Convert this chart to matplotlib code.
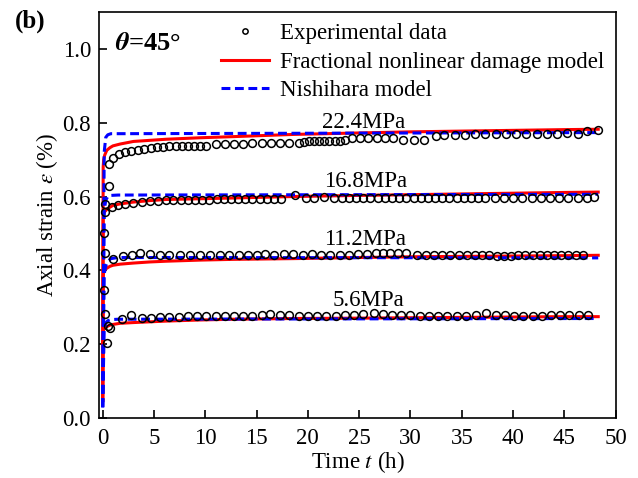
import matplotlib
matplotlib.use('Agg')
import matplotlib.pyplot as plt
from matplotlib.lines import Line2D

plt.rcParams['font.family'] = ['Liberation Serif', 'DejaVu Serif']
plt.rcParams['mathtext.fontset'] = 'stix'
plt.rcParams['font.size'] = 16.5

# Experimental data (time in h, axial strain in %)
t_56 = [0.2, 0.45, 0.55, 0.7, 1.9, 2.8, 3.8, 4.7, 5.6, 6.5, 7.4, 8.3, 9.2, 10.1, 11.0, 11.9,
        12.8, 13.7, 14.6, 15.5, 16.3, 17.3, 18.2, 19.1, 20.0, 20.9, 21.8, 22.7, 23.6, 24.5,
        25.4, 26.4, 27.3, 28.2, 29.1, 30.0, 30.9, 31.8, 32.7, 33.6, 34.5, 35.4, 36.4, 37.4,
        38.3, 39.2, 40.1, 41.0, 41.9, 42.8, 43.7, 44.6, 45.5, 46.4, 47.3]
e_56 = [0.281, 0.203, 0.250, 0.243, 0.268, 0.279, 0.272, 0.272, 0.273, 0.273, 0.273, 0.277,
        0.276, 0.276, 0.277, 0.277, 0.277, 0.278, 0.278, 0.279, 0.281, 0.279, 0.279, 0.278,
        0.278, 0.277, 0.278, 0.278, 0.279, 0.279, 0.281, 0.285, 0.281, 0.280, 0.279, 0.279,
        0.278, 0.278, 0.278, 0.278, 0.277, 0.278, 0.280, 0.285, 0.280, 0.279, 0.277, 0.276,
        0.278, 0.278, 0.279, 0.280, 0.279, 0.279, 0.280]

t_112 = [0.15, 0.25, 1.0, 2.0, 2.9, 3.6, 4.6, 5.6, 6.5, 7.5, 8.5, 9.5, 10.5, 11.4, 12.3, 13.3,
         14.2, 15.0, 15.8, 16.7, 17.7, 18.6, 19.5, 20.4, 21.3, 22.2, 23.1, 24.0, 24.9, 25.8,
         26.6, 27.3, 28.0, 28.8, 29.6, 30.6, 31.5, 32.3, 33.1, 33.9, 34.7, 35.5, 36.3, 37.0,
         37.7, 38.4, 39.1, 39.8, 40.5, 41.2, 41.9, 42.6, 43.3, 44.0, 44.7, 45.4, 46.1, 46.8]
e_112 = [0.347, 0.446, 0.432, 0.439, 0.441, 0.446, 0.444, 0.441, 0.441, 0.442, 0.442, 0.442,
         0.442, 0.442, 0.443, 0.442, 0.442, 0.443, 0.444, 0.443, 0.444, 0.444, 0.443, 0.445,
         0.443, 0.442, 0.442, 0.443, 0.444, 0.444, 0.446, 0.447, 0.447, 0.446, 0.446, 0.443,
         0.443, 0.443, 0.442, 0.442, 0.442, 0.442, 0.442, 0.441, 0.441, 0.440, 0.440, 0.440,
         0.441, 0.441, 0.441, 0.441, 0.441, 0.441, 0.441, 0.442, 0.441, 0.441]

t_168 = [0.1, 0.2, 0.9, 1.5, 2.2, 3.0, 3.8, 4.6, 5.4, 6.2, 6.9, 7.6, 8.3, 9.0, 9.7, 10.4, 11.1,
         11.8, 12.5, 13.2, 13.9, 14.6, 15.3, 16.0, 16.7, 17.4, 18.7, 19.8, 20.6, 21.6, 22.5,
         23.3, 24.0, 24.7, 25.4, 26.1, 26.8, 27.5, 28.2, 28.9, 29.6, 30.3, 31.0, 31.7, 32.4,
         33.1, 33.8, 34.5, 35.2, 35.9, 36.6, 37.3, 38.2, 39.1, 40.0, 40.9, 41.8, 42.7, 43.6,
         44.5, 45.4, 46.3, 47.2, 47.9]
e_168 = [0.500, 0.558, 0.572, 0.576, 0.579, 0.583, 0.585, 0.587, 0.588, 0.590, 0.590, 0.590,
         0.590, 0.591, 0.591, 0.591, 0.592, 0.592, 0.592, 0.592, 0.592, 0.592, 0.592, 0.592,
         0.593, 0.593, 0.603, 0.595, 0.596, 0.599, 0.596, 0.596, 0.596, 0.596, 0.596, 0.596,
         0.596, 0.596, 0.596, 0.596, 0.596, 0.596, 0.596, 0.596, 0.596, 0.596, 0.596, 0.596,
         0.596, 0.597, 0.597, 0.597, 0.597, 0.597, 0.597, 0.597, 0.597, 0.597, 0.597, 0.597,
         0.597, 0.597, 0.597, 0.598]

t_224 = [0.2, 0.6, 0.65, 1.0, 1.6, 2.2, 2.8, 3.4, 4.0, 4.7, 5.3, 5.9, 6.5, 7.1, 7.7, 8.3, 8.9,
         9.5, 10.1, 11.0, 11.9, 12.8, 13.7, 14.6, 15.5, 16.4, 17.3, 18.2, 19.1, 19.6, 20.1,
         20.6, 21.1, 21.6, 22.1, 22.6, 23.1, 23.6, 24.3, 25.1, 25.9, 26.7, 27.5, 28.3, 29.3,
         30.3, 31.3, 32.5, 33.3, 34.3, 35.3, 36.3, 37.3, 38.3, 39.3, 40.3, 41.3, 42.3, 43.3,
         44.3, 45.3, 46.3, 47.2, 48.3]
e_224 = [0.581, 0.628, 0.689, 0.705, 0.716, 0.720, 0.724, 0.727, 0.729, 0.731, 0.733, 0.735,
         0.736, 0.736, 0.737, 0.737, 0.737, 0.737, 0.738, 0.742, 0.743, 0.743, 0.743, 0.744,
         0.744, 0.744, 0.744, 0.745, 0.746, 0.748, 0.749, 0.749, 0.749, 0.750, 0.750, 0.751,
         0.751, 0.752, 0.758, 0.758, 0.759, 0.759, 0.759, 0.758, 0.752, 0.753, 0.752, 0.765,
         0.766, 0.766, 0.767, 0.768, 0.768, 0.768, 0.769, 0.769, 0.769, 0.769, 0.770, 0.770,
         0.771, 0.770, 0.776, 0.779]

# Fractional nonlinear damage model curves
tf = [0, 0.05, 0.1, 0.2, 0.4, 0.7, 1.0, 1.7, 3.0, 4.6, 6.2, 9.5, 12.7, 18.6, 25, 30, 35, 40, 45, 48.3]
fr_56 = [0.048, 0.235, 0.243, 0.246, 0.248, 0.252, 0.254, 0.257, 0.259, 0.261, 0.263, 0.266,
         0.268, 0.270, 0.271, 0.272, 0.273, 0.274, 0.275, 0.275]
fr_112 = [0.048, 0.385, 0.395, 0.401, 0.406, 0.411, 0.414, 0.417, 0.420, 0.423, 0.425, 0.428,
          0.430, 0.432, 0.435, 0.437, 0.438, 0.439, 0.440, 0.441]
fr_168 = [0.048, 0.540, 0.554, 0.559, 0.565, 0.571, 0.576, 0.580, 0.585, 0.589, 0.592, 0.594,
          0.596, 0.600, 0.603, 0.605, 0.607, 0.609, 0.611, 0.612]
fr_224 = [0.048, 0.680, 0.700, 0.712, 0.725, 0.732, 0.737, 0.742, 0.749, 0.752, 0.755, 0.759,
          0.762, 0.768, 0.772, 0.775, 0.777, 0.779, 0.781, 0.782]

# Nishihara model curves
tn = [0, 0.15, 0.3, 0.5, 0.8, 1.5, 48.3]
ni_56 = [0.03, 0.240, 0.258, 0.264, 0.267, 0.268, 0.270]
ni_112 = [0.03, 0.390, 0.412, 0.425, 0.432, 0.435, 0.434]
ni_168 = [0.03, 0.560, 0.590, 0.600, 0.603, 0.604, 0.606]
ni_224 = [0.03, 0.720, 0.760, 0.767, 0.770, 0.770, 0.773]

stress_labels = ['5.6MPa', '11.2MPa', '16.8MPa', '22.4MPa']
label_pos = [(25.9, 0.318), (25.6, 0.485), (25.6, 0.640), (25.4, 0.800)]

fig = plt.figure(figsize=(6.38, 4.78), dpi=100)
ax = fig.add_axes([0.1556, 0.1249, 0.8094, 0.8506])

dash = (0, (2.9, 1.5))
red_kw = dict(color='red', lw=2.2, zorder=3)
blue_kw = dict(color='blue', lw=2.2, linestyle=dash, zorder=4)
for fr in [fr_56, fr_112, fr_168, fr_224]:
    ax.plot(tf, fr, **red_kw)
for ni in [ni_56, ni_112, ni_168, ni_224]:
    ax.plot(tn, ni, **blue_kw)
for t, e in [(t_56, e_56), (t_112, e_112), (t_168, e_168), (t_224, e_224)]:
    ax.plot(t, e, 'o', mfc='none', mec='black', mew=1.1, ms=5.6, zorder=5)

for lab, (x, y) in zip(stress_labels, label_pos):
    ax.text(x, y, lab, ha='center', va='center', fontsize=16.5)

ax.set_xlim(-0.33, 50)
ax.set_ylim(0, 1.1)
ax.set_xticks(range(0, 51, 5))
ax.set_yticks([0.0, 0.2, 0.4, 0.6, 0.8, 1.0])
ax.set_yticklabels(['0.0', '0.2', '0.4', '0.6', '0.8', '1.0'])
ax.tick_params(direction='in', length=6, width=1.2, labelsize=16.5)
ax.tick_params(axis='x', pad=7)
ax.tick_params(axis='y', pad=6)
for s in ax.spines.values():
    s.set_linewidth(1.2)

ax.set_xlabel('Time $t$ (h)', fontsize=16.5, labelpad=0)
ax.set_ylabel(r'Axial strain $\varepsilon$ (%)', fontsize=16.5, labelpad=2)

handles = [Line2D([], [], marker='o', ls='none', mfc='none', mec='black', mew=1.1, ms=3.8),
           Line2D([], [], color='red', lw=2.2),
           Line2D([], [], color='blue', lw=2.2, linestyle=dash)]
ax.legend(handles, ['Experimental data', 'Fractional nonlinear damage model', 'Nishihara model'],
          loc='upper right', bbox_to_anchor=(1.0, 1.0), frameon=False, borderaxespad=0,
          borderpad=0.5, labelspacing=0.32, handlelength=2.1, handletextpad=0.48, fontsize=16.5)

ax.text(0.03, 0.923, r'$\mathbfit{\theta}$=45°', transform=ax.transAxes, fontsize=19,
        fontweight='bold', ha='left', va='center')
fig.text(0.0235, 0.956, '(b)', fontsize=18, fontweight='bold', ha='left', va='center')

fig.savefig('out.png', dpi=100)
